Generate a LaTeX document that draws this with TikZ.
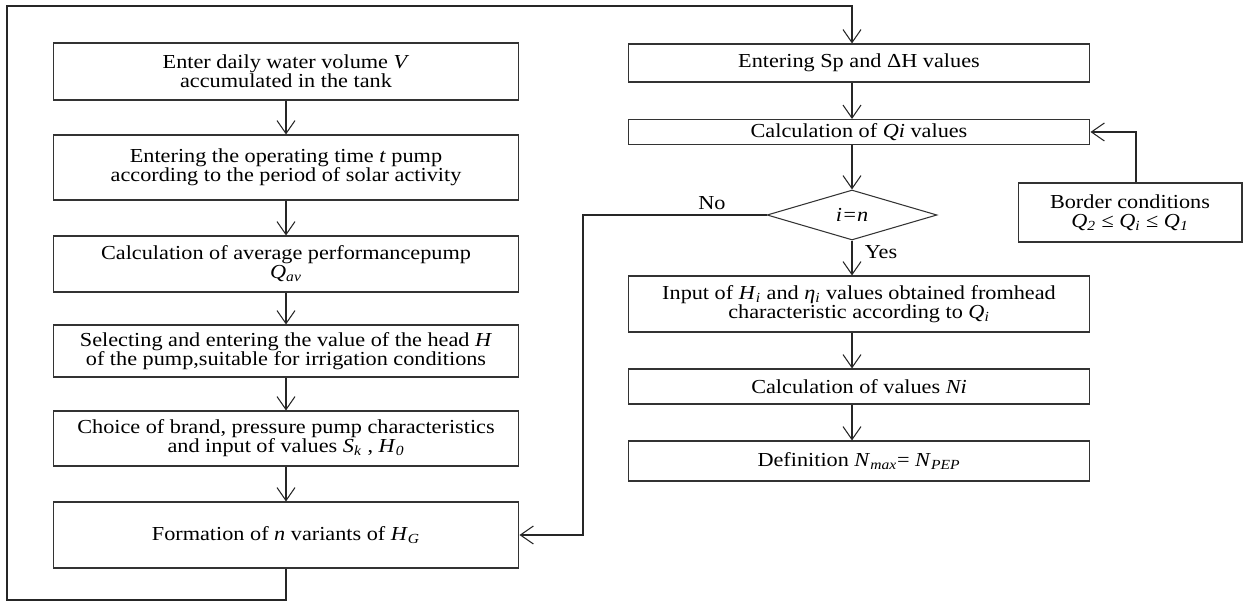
\documentclass[tikz,border=0pt]{standalone}
\usepackage{fontspec}
\setmainfont[FakeStretch=1.12]{Liberation Serif}
\usetikzlibrary{arrows.meta,shapes.geometric}
\newcommand{\isub}[2]{\textit{#1}\textsubscript{\textit{#2}}}
\tikzset{
  blk/.style={draw=black!80,line width=0.6pt,align=center,inner sep=1pt,font=\fontsize{11.3}{10.8}\selectfont},
  lbox/.style={blk,minimum width=9.32cm},
  rbox/.style={blk,minimum width=9.24cm},
  lin/.style={draw=black!85,line width=0.6pt},
  arr/.style={lin,-{Straight Barb[length=2.6mm,width=3.6mm]}},
  lbl/.style={font=\fontsize{11.3}{10.8}\selectfont,inner sep=0pt}
}
\begin{document}
\begin{tikzpicture}[x=0.02cm,y=-0.02cm]
  \useasboundingbox (0,0) rectangle (1250,604);

  \node[lbox,minimum height=1.14cm] (vol) at (286,71.5) {Enter daily water volume \textit{V}\\accumulated in the tank};
  \node[lbox,minimum height=1.3cm] (time) at (286,167.5) {Entering the operating time \textit{t} pump\\according to the period of solar activity};
  \node[lbox,minimum height=1.12cm] (avg) at (286,264) {Calculation of average performancepump\\\isub{Q}{av}};
  \node[lbox,minimum height=1.04cm] (head) at (286,351) {Selecting and entering the value of the head \textit{H}\\of the pump,suitable for irrigation conditions};
  \node[lbox,minimum height=1.1cm] (brand) at (286,438.5) {Choice of brand, pressure pump characteristics\\and input of values \isub{S}{k} , \isub{H}{0}};
  \node[lbox,minimum height=1.32cm] (form) at (286,535) {Formation of \textit{n} variants of \isub{H}{G}};

  \node[rbox,minimum height=0.76cm] (sp) at (859,63) {Entering Sp and ΔH values};
  \node[rbox,minimum height=0.5cm] (qi) at (859,132) {Calculation of \textit{Qi} values};
  \node[blk,diamond,inner sep=0pt,minimum width=3.4cm,minimum height=1cm] (chk) at (852,215) {\textit{i=n}};
  \node[rbox,minimum height=1.12cm] (inp) at (859,304) {Input of \isub{H}{i} and \isub{η}{i} values obtained fromhead\\characteristic according to \isub{Q}{i}};
  \node[rbox,minimum height=0.7cm] (ni) at (859,386.5) {Calculation of values \textit{Ni}};
  \node[rbox,minimum height=0.8cm] (def) at (859,461) {Definition \isub{N}{max}= \isub{N}{PEP}};
  \node[blk,minimum width=4.48cm,minimum height=1.18cm] (bnd) at (1130,212.5) {Border conditions\\\isub{Q}{2} ≤ \isub{Q}{i} ≤ \isub{Q}{1}};

  \node[lbl] (no) at (712,203) {No};
  \node[lbl] (yes) at (881,252) {Yes};

  \coordinate (botleft) at (7,600);
  \coordinate (topleft) at (7,6);
  \coordinate (nocorner) at (583,215);

  \draw[arr] (vol) -- (time);
  \draw[arr] (time) -- (avg);
  \draw[arr] (avg) -- (head);
  \draw[arr] (head) -- (brand);
  \draw[arr] (brand) -- (form);
  \draw[arr] (form.south) |- (botleft) -- (topleft) -| (sp.north -| chk);
  \draw[arr] (sp.south -| chk) -- (qi.north -| chk);
  \draw[arr] (qi.south -| chk) -- (chk.north);
  \draw[arr] (chk.south) -- (inp.north -| chk);
  \draw[arr] (inp.south -| chk) -- (ni.north -| chk);
  \draw[arr] (ni.south -| chk) -- (def.north -| chk);
  \draw[arr] (chk.west) -- (nocorner) |- (form.east);
  \draw[arr] ([xshift=0.12cm]bnd.north) |- (qi.east);
\end{tikzpicture}
\end{document}
